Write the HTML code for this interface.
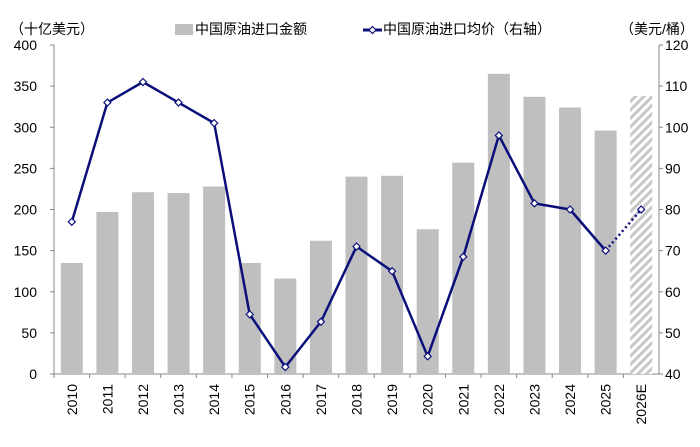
<!DOCTYPE html>
<html><head><meta charset="utf-8">
<style>
html,body{margin:0;padding:0;background:#fff;}
svg text{font-family:"Liberation Sans","Noto Sans CJK SC",sans-serif;fill:#000;}
</style></head>
<body>
<svg id="chart" width="700" height="442" viewBox="0 0 700 442" xmlns="http://www.w3.org/2000/svg">
<defs>
<pattern id="hatch" patternUnits="userSpaceOnUse" width="6" height="6" patternTransform="rotate(45)">
<rect width="6" height="6" fill="#fff"/>
<rect width="3" height="6" fill="#c8c8c8"/>
</pattern>
</defs>
<text x="10" y="34" font-size="14">（十亿美元）</text>
<text x="620" y="34" font-size="14">（美元/桶）</text>
<g>
<rect x="175" y="24" width="18" height="11" fill="#bfbfbf"/>
<text x="195" y="34" font-size="14">中国原油进口金额</text>
</g>
<g>
<line x1="363" y1="30" x2="382" y2="30" stroke="#0b0f7a" stroke-width="3"/>
<path d="M372.5,26.5 L376,30 L372.5,33.5 L369,30Z" fill="#fff" stroke="#0b0f7a" stroke-width="1.2"/>
<text x="383" y="34" font-size="14">中国原油进口均价（右轴）</text>
</g>
<g id="axes"></g>
<g id="bars"></g>
<g id="line"></g>
</svg>
<script>
const categories=["2010","2011","2012","2013","2014","2015","2016","2017","2018","2019","2020","2021","2022","2023","2024","2025","2026E"];
const amountValues=[135,197,221,220,228,135,116,162,240,241,176,257,365,337,324,296,338];
const priceValues=[77,106,111,106,101,54.5,41.7,52.7,71,65,44.3,68.5,98,81.5,80,70,80];
const leftTicks=[0,50,100,150,200,250,300,350,400];
const rightTicks=[40,50,60,70,80,90,100,110,120];
const NS="http://www.w3.org/2000/svg";
const X0=54,X1=659,Y0=374,Y1=45;
const step=(X1-X0)/categories.length;
const xc=i=>X0+step*(i+0.5);
const yL=v=>Y0-(v-0)/(400-0)*(Y0-Y1);
const yR=v=>Y0-(v-40)/(120-40)*(Y0-Y1);
function mk(tag,attrs,parent){const e=document.createElementNS(NS,tag);for(const k in attrs)e.setAttribute(k,attrs[k]);parent.appendChild(e);return e;}
const axes=document.getElementById('axes'),bars=document.getElementById('bars'),line=document.getElementById('line');
// axes
let a=mk('line',{x1:X0,y1:Y1,x2:X0,y2:Y0,stroke:'#888','stroke-width':1},axes);


a=mk('line',{x1:X1,y1:Y1,x2:X1,y2:Y0,stroke:'#888','stroke-width':1},axes);


a=mk('line',{x1:X0,y1:Y0,x2:X1,y2:Y0,stroke:'#888','stroke-width':1},axes);


leftTicks.forEach(v=>{const y=yL(v);
mk('line',{x1:X0-4,y1:y,x2:X0,y2:y,stroke:'#888'},axes);
const t=mk('text',{x:37,y:y+5,'font-size':14,'text-anchor':'end'},axes);t.textContent=v;

});
rightTicks.forEach(v=>{const y=yR(v);
mk('line',{x1:X1,y1:y,x2:X1+4,y2:y,stroke:'#888'},axes);
const t=mk('text',{x:665,y:y+5,'font-size':14},axes);t.textContent=v;

});
categories.forEach((c,i)=>{
mk('line',{x1:X0+step*i,y1:Y0,x2:X0+step*i,y2:Y0+4,stroke:'#888'},axes);
const x=xc(i);
const t=mk('text',{x:0,y:0,'font-size':14,'text-anchor':'end',transform:`translate(${x+5},${Y0+10}) rotate(-90)`},axes);
t.textContent=c;


// bar
const bw=22,y=yL(amountValues[i]);
const r=mk('rect',{x:x-bw/2,y:y,width:bw,height:Y0-y,fill:c.endsWith('E')?'url(#hatch)':'#bfbfbf'},bars);


});
// line
const n=priceValues.length;
let d='';
for(let i=0;i<n-1;i++)d+=(i?'L':'M')+xc(i)+','+yR(priceValues[i]);
const p=mk('path',{d:d,fill:'none',stroke:'#0b0f7a','stroke-width':2.5,'stroke-linejoin':'round'},line);


const p2=mk('line',{x1:xc(n-2),y1:yR(priceValues[n-2]),x2:xc(n-1),y2:yR(priceValues[n-1]),stroke:'#0b0f7a','stroke-width':2.5,'stroke-dasharray':'2,3'},line);


priceValues.forEach((v,i)=>{const x=xc(i),y=yR(v);
const m=mk('path',{d:`M${x},${y-3.5}L${x+3.5},${y}L${x},${y+3.5}L${x-3.5},${y}Z`,fill:'#fff',stroke:'#0b0f7a','stroke-width':1.2},line);

});
</script>
</body></html>
